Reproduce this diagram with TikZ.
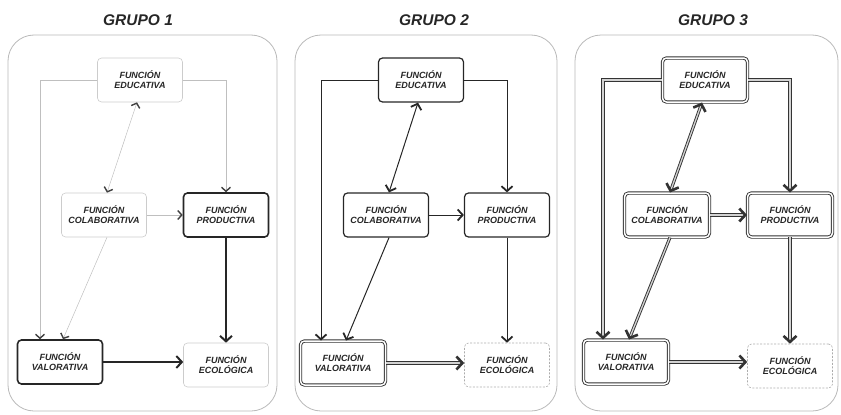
\documentclass[tikz,border=0pt]{standalone}
\usepackage{fontspec}
\setmainfont{Liberation Sans}
\usetikzlibrary{arrows.meta}

\begin{document}
\begin{tikzpicture}[
    x=1pt, y=-1pt,
    every node/.style={align=center, text=black!85, font=\fontsize{9}{10}\selectfont\bfseries\itshape},
    group_title/.style={font=\fontsize{15.5}{17}\selectfont\bfseries\itshape},
    panel/.style={draw=gray!55, line width=0.8pt, rounded corners=26pt},
    fn_box/.style={rounded corners=4pt, minimum width=85pt, minimum height=44pt, inner sep=1pt},
    light_box/.style={fn_box, draw=gray!40, line width=0.6pt},
    bold_box/.style={fn_box, draw=black!85, line width=1.6pt},
    mid_box/.style={fn_box, draw=black!85, line width=1.2pt},
    double_box/.style={fn_box, draw=black!80, line width=0.9pt, double=white, double distance=1.5pt},
    dashed_box/.style={fn_box, draw=gray!65, line width=0.6pt, dash pattern=on 2pt off 1.5pt},
    light_line/.style={->, draw=gray!50, line width=0.5pt,
        >={Straight Barb[length=4pt, width=9pt, line width=1.4pt, color=black!75]}},
    mid_line/.style={->, draw=black!85, line width=1pt,
        >={Straight Barb[length=5pt, width=11pt, line width=1.8pt]}},
    bold_line/.style={->, draw=black!85, line width=1.5pt,
        >={Straight Barb[length=5.5pt, width=12pt, line width=2pt]}},
    double_line/.style={->, draw=black!80, line width=0.9pt, double=gray!35, double distance=1.3pt,
        >={Straight Barb[length=6pt, width=13pt, line width=2.6pt]}}
]
\useasboundingbox (0,0) rectangle (841,415);

% panels and titles
\draw[panel] (8,35) rectangle (277,411);
\draw[panel] (295,35) rectangle (557,411);
\draw[panel] (575,35) rectangle (838,411);
\node[group_title] (title_one) at (138,20) {GRUPO 1};
\node[group_title] (title_two) at (434,20) {GRUPO 2};
\node[group_title] (title_three) at (713,20) {GRUPO 3};

% grupo 1
\node (edu_one) [light_box] at (140,80) {FUNCIÓN\\EDUCATIVA};
\node (col_one) [light_box] at (104,215) {FUNCIÓN\\COLABORATIVA};
\node (pro_one) [bold_box] at (226,215) {FUNCIÓN\\PRODUCTIVA};
\node (val_one) [bold_box] at (60,362) {FUNCIÓN\\VALORATIVA};
\node (eco_one) [light_box] at (226,365) {FUNCIÓN\\ECOLÓGICA};

\draw[light_line] (edu_one.west) -| ([xshift=-20pt]val_one.north);
\draw[light_line] (edu_one.east) -| (pro_one.north);
\draw[light_line, <->] ([xshift=-3pt]edu_one.south) -- ([xshift=3pt]col_one.north);
\draw[light_line] (col_one) -- (pro_one);
\draw[light_line] ([xshift=3pt]col_one.south) -- ([xshift=3pt]val_one.north);
\draw[bold_line] (pro_one) -- (eco_one);
\draw[bold_line] (val_one.east) -- (eco_one.west |- val_one.east);

% grupo 2
\node (edu_two) [mid_box] at (421,80) {FUNCIÓN\\EDUCATIVA};
\node (col_two) [mid_box] at (386,215) {FUNCIÓN\\COLABORATIVA};
\node (pro_two) [mid_box] at (507,215) {FUNCIÓN\\PRODUCTIVA};
\node (val_two) [double_box] at (343,363) {FUNCIÓN\\VALORATIVA};
\node (eco_two) [dashed_box] at (507,365) {FUNCIÓN\\ECOLÓGICA};

\draw[mid_line] (edu_two.west) -| ([xshift=-22pt]val_two.north);
\draw[mid_line] (edu_two.east) -| (pro_two.north);
\draw[mid_line, <->] ([xshift=-3pt]edu_two.south) -- ([xshift=3pt]col_two.north);
\draw[mid_line] (col_two) -- (pro_two);
\draw[mid_line] ([xshift=3pt]col_two.south) -- ([xshift=3pt]val_two.north);
\draw[mid_line] (pro_two) -- (eco_two);
\draw[double_line, line width=1.1pt, double distance=1.6pt] (val_two.east) -- (eco_two.west |- val_two.east);

% grupo 3
\node (edu_three) [double_box] at (705,80) {FUNCIÓN\\EDUCATIVA};
\node (col_three) [double_box] at (667,215) {FUNCIÓN\\COLABORATIVA};
\node (pro_three) [double_box] at (790,215) {FUNCIÓN\\PRODUCTIVA};
\node (val_three) [double_box] at (626,362) {FUNCIÓN\\VALORATIVA};
\node (eco_three) [dashed_box] at (790,366) {FUNCIÓN\\ECOLÓGICA};

\draw[double_line] (edu_three.west) -| ([xshift=-23pt]val_three.north);
\draw[double_line] (edu_three.east) -| (pro_three.north);
\draw[double_line, <->] ([xshift=-3pt]edu_three.south) -- ([xshift=3pt]col_three.north);
\draw[double_line] (col_three) -- (pro_three);
\draw[double_line] ([xshift=3pt]col_three.south) -- ([xshift=3pt]val_three.north);
\draw[double_line] (pro_three) -- (eco_three);
\draw[double_line] (val_three.east) -- (eco_three.west |- val_three.east);
\end{tikzpicture}
\end{document}
